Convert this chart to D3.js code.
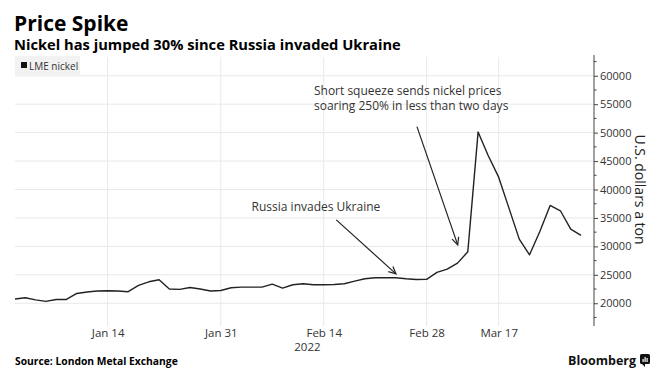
<!DOCTYPE html>
<html>
<head>
<meta charset="utf-8">
<script src="https://cdn.jsdelivr.net/npm/d3@7"></script>
<style>
  html, body { margin: 0; padding: 0; background: #fff; }
  svg { display: block; }
  text { font-family: "Open Sans", "Liberation Sans", sans-serif; }
</style>
</head>
<body>
<svg id="chart" width="666" height="390"></svg>
<script>
// ---- data ----
const dates = [
  "2021-12-31","2022-01-04","2022-01-05","2022-01-06","2022-01-07",
  "2022-01-10","2022-01-11","2022-01-12","2022-01-13","2022-01-14",
  "2022-01-17","2022-01-18","2022-01-19","2022-01-20","2022-01-21",
  "2022-01-24","2022-01-25","2022-01-26","2022-01-27","2022-01-28",
  "2022-01-31","2022-02-01","2022-02-02","2022-02-03","2022-02-04",
  "2022-02-07","2022-02-08","2022-02-09","2022-02-10","2022-02-11",
  "2022-02-14","2022-02-15","2022-02-16","2022-02-17","2022-02-18",
  "2022-02-21","2022-02-22","2022-02-23","2022-02-24","2022-02-25",
  "2022-02-28","2022-03-01","2022-03-02","2022-03-03","2022-03-04",
  "2022-03-07","2022-03-16","2022-03-17","2022-03-18","2022-03-21",
  "2022-03-22","2022-03-23","2022-03-24","2022-03-25","2022-03-28",
  "2022-03-29"
];
const nickel = [
  20740, 20970, 20600, 20320, 20670,
  20670, 21720, 21970, 22150, 22200,
  22150, 22030, 23130, 23770, 24130,
  22500, 22440, 22780, 22500, 22150,
  22250, 22720, 22840, 22840, 22840,
  23370, 22670, 23250, 23430, 23250,
  23250, 23310, 23430, 23900, 24300,
  24480, 24480, 24480, 24300, 24180,
  24200, 25420, 26000, 27060, 29040,
  50100, 45900, 42170, 36730, 31280,
  28520, 32620, 37190, 36260, 33040,
  31920
];
const xTickDates = ["2022-01-14","2022-01-31","2022-02-14","2022-02-28","2022-03-17"];
const xTickLabels = ["Jan 14","Jan 31","Feb 14","Feb 28","Mar 17"];
const yTicks = [20000,25000,30000,35000,40000,45000,50000,55000,60000];
const yMinorTicks = [17500,22500,27500,32500,37500,42500,47500,52500,57500,62500];
const seriesName = "LME nickel";
const titleText = "Price Spike";
const subtitleText = "Nickel has jumped 30% since Russia invaded Ukraine";
const yTitle = "U.S. dollars a ton";
const yearLabel = "2022";
const sourceText = "Source: London Metal Exchange";
// annotations: arrow from (index,value) to (index,value)
const annotations = [
  { lines: ["Russia invades Ukraine"], textIdx: 22.99, textVal: 36250,
    from: [31.22, 34660], to: [37.02, 25170] },
  { lines: ["Short squeeze sends nickel prices", "soaring 250% in less than two days"],
    textIdx: 29.05, textVal: 56700, from: [39.06, 51060], to: [43.02, 30270] }
];

// ---- layout ----
const svg = d3.select("#chart");
const plot = { left: 15, right: 594, top: 57, bottom: 326 };

const x = d3.scalePoint().domain(dates).range([15, 581]);
const xi = d3.scaleLinear().domain([0, dates.length - 1]).range([15, 581]);
const y = d3.scaleLinear().domain([16000, 63300]).range([plot.bottom, plot.top]);

// gridlines
const grid = svg.append("g");
grid.selectAll("line.h").data(yTicks).join("line")
  .attr("x1", plot.left).attr("x2", plot.right)
  .attr("y1", d => y(d)).attr("y2", d => y(d))
  .attr("stroke", "#e8e8e8").attr("stroke-width", 1);
grid.selectAll("line.v").data(xTickDates).join("line")
  .attr("x1", d => x(d)).attr("x2", d => x(d))
  .attr("y1", plot.top).attr("y2", plot.bottom)
  .attr("stroke", "#e8e8e8").attr("stroke-width", 1);

// legend
const lg = svg.append("g");
lg.append("rect").attr("x", 15).attr("y", 56).attr("width", 65).attr("height", 20).attr("fill", "#f2f2f2");
lg.append("rect").attr("x", 21).attr("y", 62).attr("width", 6).attr("height", 6).attr("fill", "#111");
lg.append("text").attr("x", 29).attr("y", 69.5).attr("font-size", 10).attr("fill", "#333").text(seriesName);

// right axis
const yAxis = d3.axisRight(y).tickValues(yTicks).tickSize(4).tickPadding(2).tickFormat(d3.format("d"));
const ga = svg.append("g").attr("transform", `translate(${plot.right},0)`).call(yAxis);
ga.select(".domain").attr("stroke", "#444").attr("d", `M0,${plot.top - 2}V${plot.bottom}`);
ga.selectAll(".tick line").attr("stroke", "#444");
ga.selectAll(".tick text").attr("font-size", 11).attr("fill", "#333")
  .attr("font-family", "'Open Sans', sans-serif");
svg.append("g").attr("transform", `translate(${plot.right},0)`)
  .selectAll("line").data(yMinorTicks).join("line")
  .attr("x1", 0).attr("x2", 2.5).attr("y1", d => y(d)).attr("y2", d => y(d))
  .attr("stroke", "#444");

// y title
svg.append("text")
  .attr("transform", `translate(635, ${y(40000)}) rotate(90)`)
  .attr("text-anchor", "middle").attr("font-size", 14).attr("fill", "#222")
  .text(yTitle);

// x axis labels
const xAxis = d3.axisBottom(x).tickValues(xTickDates).tickSize(0).tickPadding(0)
  .tickFormat((d, i) => xTickLabels[i]);
const gx = svg.append("g").attr("transform", `translate(0, 337)`).call(xAxis);
gx.select(".domain").remove();
gx.selectAll(".tick text").attr("font-size", 11.5).attr("fill", "#333").attr("dy", 0)
  .attr("font-family", "'Open Sans', sans-serif");
svg.append("text").attr("x", x("2022-02-11") - 6).attr("y", 351).attr("text-anchor", "middle")
  .attr("font-size", 11.5).attr("fill", "#333").text(yearLabel);

// line
const line = d3.line().x((d, i) => x(dates[i])).y(d => y(d));
svg.append("path").datum(nickel).attr("d", line)
  .attr("fill", "none").attr("stroke", "#222").attr("stroke-width", 1.4)
  .attr("stroke-linejoin", "round");

// annotations
const ag = svg.append("g");
annotations.forEach(a => {
  a.lines.forEach((l, i) => {
    ag.append("text").attr("font-size", 12).attr("fill", "#333")
      .attr("x", xi(a.textIdx)).attr("y", y(a.textVal) + i * 15.4).text(l);
  });
  const x1 = xi(a.from[0]), y1 = y(a.from[1]), x2 = xi(a.to[0]), y2 = y(a.to[1]);
  ag.append("line").attr("x1", x1).attr("y1", y1).attr("x2", x2).attr("y2", y2)
    .attr("stroke", "#222").attr("stroke-width", 1.2);
  const ang = Math.atan2(y2 - y1, x2 - x1);
  const L = 8, w = 0.45;
  const p = [
    [x2 - L * Math.cos(ang - w), y2 - L * Math.sin(ang - w)],
    [x2, y2],
    [x2 - L * Math.cos(ang + w), y2 - L * Math.sin(ang + w)]
  ];
  ag.append("path").attr("d", d3.line()(p)).attr("fill", "none")
    .attr("stroke", "#222").attr("stroke-width", 1.2);
});

// titles
svg.append("text").attr("x", 14).attr("y", 30.5).attr("font-size", 21).attr("font-weight", "bold")
  .attr("font-family", "'DejaVu Sans', sans-serif").attr("fill", "#000").text(titleText);
svg.append("text").attr("x", 14).attr("y", 50).attr("font-size", 14.7).attr("font-weight", "bold")
  .attr("font-family", "'DejaVu Sans', sans-serif").attr("fill", "#000").text(subtitleText);

// footer
svg.append("text").attr("x", 15).attr("y", 365).attr("font-size", 10.3).attr("font-weight", "bold")
  .attr("font-family", "'DejaVu Sans', sans-serif").attr("fill", "#000").text(sourceText);
svg.append("text").attr("x", 636).attr("y", 365).attr("text-anchor", "end").attr("font-size", 12.5)
  .attr("font-weight", "bold").attr("font-family", "'Open Sans', sans-serif").attr("fill", "#111")
  .text("Bloomberg");
const logo = svg.append("g").attr("transform", "translate(640,354)");
logo.append("rect").attr("width", 10).attr("height", 10).attr("rx", 1.5).attr("fill", "#111");
logo.append("path").attr("d", "M2,10 L5,13 L5,10 Z").attr("fill", "#111");
[[2.5, 5, 3], [4.5, 3, 5], [6.5, 4, 4]].forEach(([bx, by, bh]) =>
  logo.append("rect").attr("x", bx).attr("y", by).attr("width", 1.2).attr("height", bh).attr("fill", "#fff"));
</script>
</body>
</html>
